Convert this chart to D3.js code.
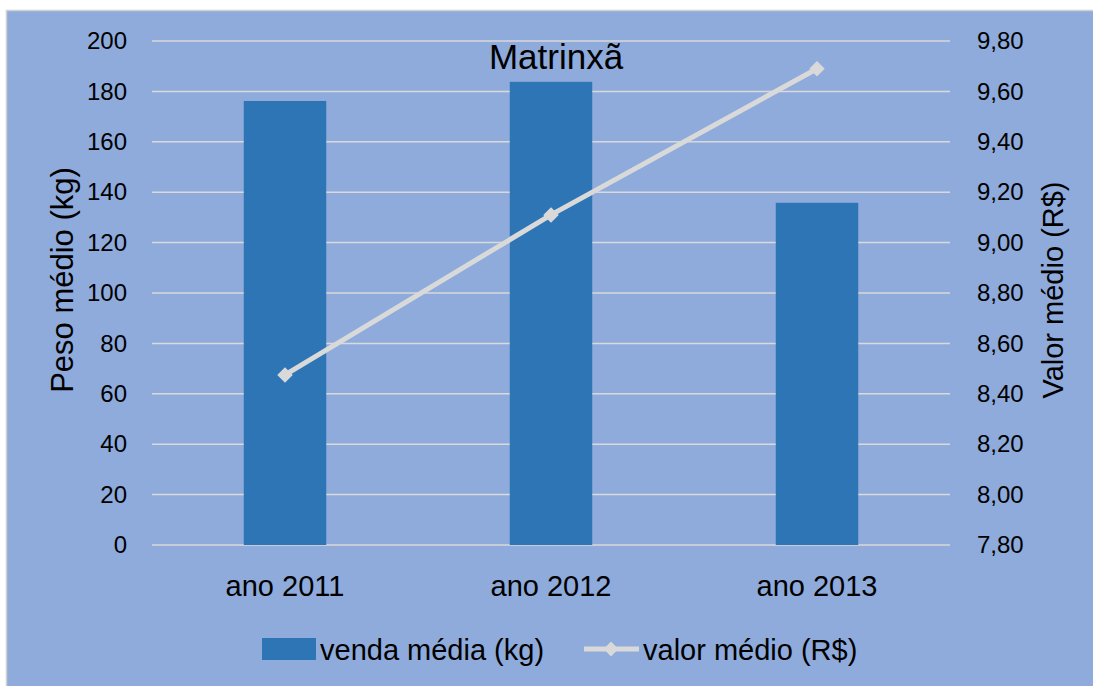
<!DOCTYPE html>
<html><head><meta charset="utf-8">
<script src="https://cdn.jsdelivr.net/npm/d3@7"></script>
<style>body{margin:0;background:#fff;overflow:hidden}</style>
</head><body>
<svg id="c" width="1093" height="686"></svg>
<script>
const categories = ["ano 2011", "ano 2012", "ano 2013"];
const vendaMedia = [176.2, 183.8, 135.8];
const valorMedio = [8.475, 9.11, 9.69];
const leftTicks = [0, 20, 40, 60, 80, 100, 120, 140, 160, 180, 200];
const rightTicks = [7.8, 8.0, 8.2, 8.4, 8.6, 8.8, 9.0, 9.2, 9.4, 9.6, 9.8];
const title = "Matrinxã";
const seriesNames = ["venda média (kg)", "valor médio (R$)"];
const axisTitles = ["Peso médio (kg)", "Valor médio (R$)"];

const svg = d3.select("#c");
const font = "'Liberation Sans', Arial, sans-serif";
const bg = "#8eabdc", barCol = "#2e75b6", lineCol = "#d9d9d9";

svg.append("rect").attr("x", 6.5).attr("y", 10.5).attr("width", 1100).attr("height", 700)
  .attr("fill", bg).attr("stroke", "#d0d0d0").attr("stroke-width", 1.5);

const L = 152, R = 950, T = 41, B = 545;
const x = d3.scaleBand().domain(categories).range([L, R]).paddingInner(0.69).paddingOuter(0.345);
const yL = d3.scaleLinear().domain([0, 200]).range([B, T]);
const yR = d3.scaleLinear().domain([7.8, 9.8]).range([B, T]);

// gridlines
svg.append("g").selectAll("line").data(leftTicks).join("line")
  .attr("x1", L).attr("x2", R).attr("y1", d => yL(d)).attr("y2", d => yL(d))
  .attr("stroke", lineCol).attr("stroke-width", 1.5);

// axes
const gl = svg.append("g").attr("transform", `translate(${L},0)`)
  .call(d3.axisLeft(yL).tickValues(leftTicks).tickSize(0).tickPadding(25));
gl.select(".domain").remove();
gl.selectAll("text").attr("font-family", font).attr("font-size", 24).attr("fill", "#000");

const fmt = d => d3.format(".2f")(d).replace(".", ",");
const gr = svg.append("g").attr("transform", `translate(${R},0)`)
  .call(d3.axisRight(yR).tickValues(rightTicks).tickFormat(fmt).tickSize(0).tickPadding(27));
gr.select(".domain").remove();
gr.selectAll("text").attr("font-family", font).attr("font-size", 24).attr("fill", "#000");

const gx = svg.append("g").attr("transform", `translate(0,${B})`)
  .call(d3.axisBottom(x).tickSize(0).tickPadding(30));
gx.select(".domain").remove();
gx.selectAll("text").attr("font-family", font).attr("font-size", 29).attr("fill", "#000");

// bars
svg.append("g").selectAll("rect").data(categories).join("rect")
  .attr("x", d => x(d)).attr("width", x.bandwidth())
  .attr("y", (d, i) => yL(vendaMedia[i])).attr("height", (d, i) => B - yL(vendaMedia[i]))
  .attr("fill", barCol);

// line
const cx = d => x(d) + x.bandwidth() / 2;
svg.append("path").datum(categories)
  .attr("d", d3.line().x(d => cx(d)).y((d, i) => yR(valorMedio[i])))
  .attr("fill", "none").attr("stroke", lineCol).attr("stroke-width", 5);
svg.append("g").selectAll("path").data(categories).join("path")
  .attr("d", d3.symbol().type(d3.symbolSquare).size(120))
  .attr("transform", (d, i) => `translate(${cx(d)},${yR(valorMedio[i])}) rotate(45)`)
  .attr("fill", lineCol);

// title
svg.append("text").attr("x", 556).attr("y", 69).attr("text-anchor", "middle")
  .attr("font-family", font).attr("font-size", 35).attr("fill", "#000").text(title);

// axis titles
svg.append("text").attr("transform", "translate(73,280) rotate(-90)").attr("text-anchor", "middle")
  .attr("font-family", font).attr("font-size", 31).attr("fill", "#000").text(axisTitles[0]);
svg.append("text").attr("transform", "translate(1063,290) rotate(-90)").attr("text-anchor", "middle")
  .attr("font-family", font).attr("font-size", 29).attr("fill", "#000").text(axisTitles[1]);

// legend
const lg = svg.append("g");
lg.append("rect").attr("x", 262).attr("y", 638).attr("width", 54).attr("height", 22).attr("fill", barCol);
lg.append("text").attr("x", 320).attr("y", 660).attr("font-family", font).attr("font-size", 29)
  .attr("fill", "#000").text(seriesNames[0]);
lg.append("line").attr("x1", 584).attr("x2", 639).attr("y1", 649).attr("y2", 649)
  .attr("stroke", lineCol).attr("stroke-width", 5);
lg.append("path").attr("d", d3.symbol().type(d3.symbolSquare).size(110)).attr("transform", "translate(611,649) rotate(45)")
  .attr("fill", lineCol);
lg.append("text").attr("x", 643).attr("y", 660).attr("font-family", font).attr("font-size", 29)
  .attr("fill", "#000").text(seriesNames[1]);
</script>
</body></html>
